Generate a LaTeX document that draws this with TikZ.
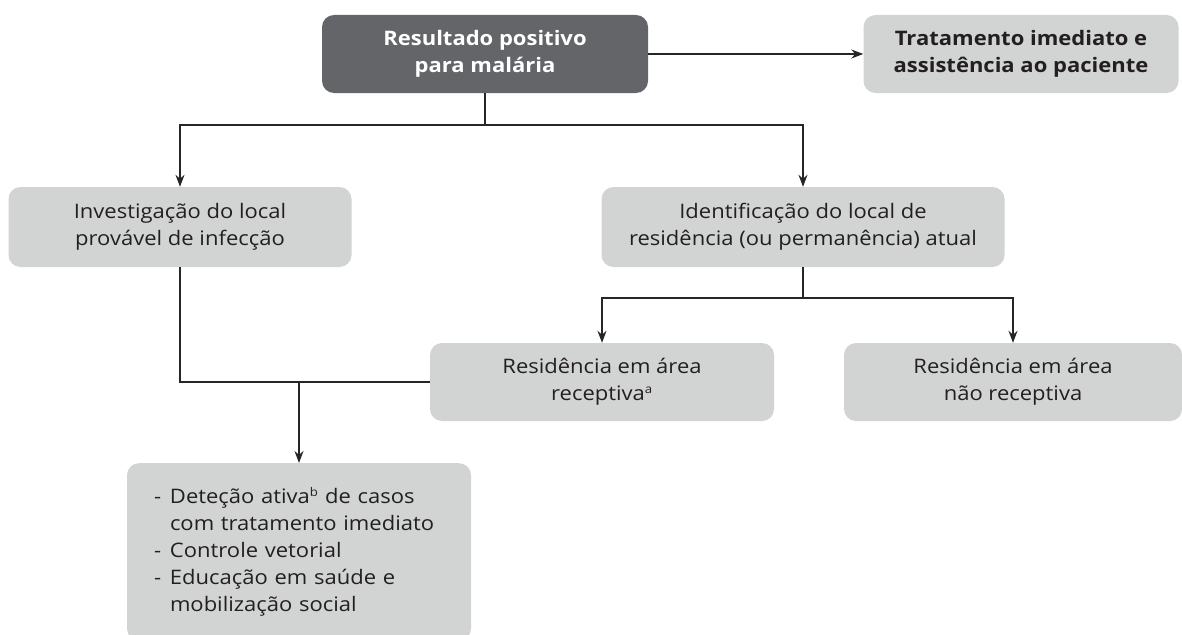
\documentclass[tikz,border=0pt]{standalone}
\usepackage{fontspec}
\setmainfont{Open Sans}[FakeStretch=1.1]
\usepackage{xcolor}
\usetikzlibrary{arrows.meta,positioning}

\definecolor{boxdark}{HTML}{646569}
\definecolor{boxlight}{HTML}{D2D3D3}
\definecolor{textdark}{HTML}{231F20}
\newcommand{\supmark}[1]{\textsuperscript{\fontsize{12}{12}\selectfont #1}}

\begin{document}
\begin{tikzpicture}[x=1pt,y=-1pt,
	box/.style = {rounded corners=12pt, fill=boxlight, text=textdark, align=center,
		inner sep=0pt, minimum height=78pt, font=\fontsize{20}{27}\selectfont},
	topbox/.style = {box, fill=boxdark, text=white, font=\fontsize{20}{27}\selectfont\bfseries},
	link/.style = {line width=1.4pt, draw=black!85},
	>={Stealth[length=12pt,width=9pt]}]

	\useasboundingbox (0,0) rectangle (1182,634);
	\clip (0,0) rectangle (1182,634);

	% boxes
	\node[topbox, minimum width=326pt] (res) at (485,54) {Resultado positivo\\para malária};
	\node[box, minimum width=315pt, font=\fontsize{20}{27}\selectfont\bfseries] (trat) at (1021,54) {Tratamento imediato e\\assistência ao paciente};
	\node[box, minimum width=343pt, minimum height=80pt] (inv) at (180,227) {Investigação do local\\provável de infecção};
	\node[box, minimum width=403pt, minimum height=80pt] (ident) at (803,227) {Identificação do local de\\residência (ou permanência) atual};
	\node[box, minimum width=344pt] (rec) at (602,382) {Residência em área\\receptiva\supmark{a}};
	\node[box, minimum width=338pt] (nrec) at (1013,382) {Residência em área\\não receptiva};
	\node[box, anchor=north, minimum width=344pt, text width=290pt, inner xsep=27pt, inner ysep=24pt, align=left] (act) at (299,463)
		{\makebox[16pt][l]{-}Deteção ativa\supmark{b} de casos\\
		 \hspace*{16pt}com tratamento imediato\\
		 \makebox[16pt][l]{-}Controle vetorial\\
		 \makebox[16pt][l]{-}Educação em saúde e\\
		 \hspace*{16pt}mobilização social\\[6pt]};

	% joints
	\coordinate (jtop) at (485,125);
	\coordinate (jmid) at (803,298);
	\coordinate (jlow) at (299,383);

	% connectors
	\draw[link,->] (res) -- (trat);
	\draw[link] (res) -- (jtop);
	\draw[link,->] (jtop) -| (inv);
	\draw[link,->] (jtop) -| (ident);
	\draw[link] (ident) -- (jmid);
	\draw[link,->] (jmid) -| (rec);
	\draw[link,->] (jmid) -| (nrec);
	\draw[link] (inv) |- (rec);
	\draw[link,->] (jlow) -- (act);
\end{tikzpicture}
\end{document}
